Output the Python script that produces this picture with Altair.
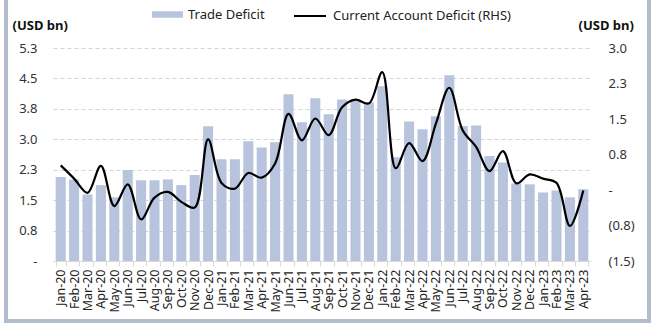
import altair as alt
import pandas as pd

months = ["Jan-20", "Feb-20", "Mar-20", "Apr-20", "May-20", "Jun-20", "Jul-20", "Aug-20",
          "Sep-20", "Oct-20", "Nov-20", "Dec-20", "Jan-21", "Feb-21", "Mar-21", "Apr-21",
          "May-21", "Jun-21", "Jul-21", "Aug-21", "Sep-21", "Oct-21", "Nov-21", "Dec-21",
          "Jan-22", "Feb-22", "Mar-22", "Apr-22", "May-22", "Jun-22", "Jul-22", "Aug-22",
          "Sep-22", "Oct-22", "Nov-22", "Dec-22", "Jan-23", "Feb-23", "Mar-23", "Apr-23"]

trade = [2.07, 2.01, 1.64, 1.87, 1.57, 2.24, 1.99, 1.99, 2.01, 1.87, 2.12, 3.32,
         2.51, 2.51, 2.95, 2.80, 2.93, 4.11, 3.42, 4.01, 3.62, 3.98, 3.98, 3.91,
         4.31, 2.56, 3.44, 3.25, 3.57, 4.58, 3.33, 3.34, 2.59, 2.43, 1.91, 1.89,
         1.69, 1.74, 1.57, 1.77]

cad = [0.52, 0.24, -0.06, 0.51, -0.34, 0.12, -0.62, -0.16, -0.04, -0.25, -0.37, 1.07,
       0.15, 0.03, 0.36, 0.26, 0.56, 1.61, 1.05, 1.51, 1.16, 1.75, 1.91, 1.83,
       2.49, 0.46, 0.99, 0.61, 1.40, 2.16, 1.26, 0.91, 0.40, 0.82, 0.14, 0.33,
       0.24, 0.15, -0.76, -0.01]

left_ticks = [0, 0.75, 1.5, 2.25, 3.0, 3.75, 4.5, 5.25]
right_ticks = [-1.5, -0.75, 0, 0.75, 1.5, 2.25, 3.0]

bar_name = "Trade Deficit"
line_name = "Current Account Deficit (RHS)"

df = pd.DataFrame({"month": months, "trade": trade, "cad": cad,
                   "bar_key": bar_name, "line_key": line_name})

FONT = "Noto Sans"
BAR = "#b8c4de"

x_enc = alt.X("month:N", sort=months, title=None,
              scale=alt.Scale(paddingInner=0.25, paddingOuter=0.2),
              axis=alt.Axis(labelAngle=-90, labelFontSize=12.5, labelColor="#222222",
                            domainColor="#d9d9d9", tickColor="#d9d9d9", tickSize=5,
                            tickBand="extent", labelPadding=3, grid=False,
                            labelFont=FONT))

bars = alt.Chart(df).mark_bar().encode(
    x=x_enc,
    y=alt.Y("trade:Q", scale=alt.Scale(domain=[0, 5.25], nice=False, zero=False),
            axis=alt.Axis(values=left_ticks, title="(USD bn)", titleAngle=0,
                          titleAlign="left", titleBaseline="middle",
                          titleX=-41, titleY=-23, titleFontWeight="bold",
                          titleFontSize=13, titleFont=FONT, titleColor="#111111",
                          labelExpr="datum.value == 0 ? '-' : format(datum.value, '.1f')",
                          labelFontSize=13, labelFont=FONT, labelColor="#333333",
                          labelPadding=16, ticks=False, domain=False,
                          grid=True, gridDash=[4, 3], gridColor="#d4d4d4")),
    color=alt.Color("bar_key:N", scale=alt.Scale(domain=[bar_name], range=[BAR]),
                    legend=alt.Legend(title=None, orient="none", legendX=99, legendY=-49,
                                      symbolType="M-1,-0.21L1,-0.21L1,0.21L-1,0.21Z",
                                      symbolSize=961, symbolStrokeWidth=0,
                                      labelFontSize=13, labelFont=FONT, labelColor="#222222",
                                      labelOffset=5, padding=0, labelLimit=400)),
)

line = alt.Chart(df).mark_line(interpolate="catmull-rom", strokeWidth=2.2).encode(
    x=alt.X("month:N", sort=months),
    y=alt.Y("cad:Q", scale=alt.Scale(domain=[-1.5, 3.0], nice=False, zero=False),
            axis=alt.Axis(orient="right", values=right_ticks, title="(USD bn)", titleAngle=0,
                          titleAlign="left", titleBaseline="middle",
                          titleX=-13, titleY=-23, titleFontWeight="bold",
                          titleFontSize=13, titleFont=FONT, titleColor="#111111",
                          labelExpr="datum.value == 0 ? '-' : (datum.value < 0 ? '(' + format(-datum.value, '.1f') + ')' : format(datum.value, '.1f'))",
                          labelFontSize=13, labelFont=FONT, labelColor="#333333",
                          labelPadding=17, ticks=False, domain=False, grid=False)),
    stroke=alt.Stroke("line_key:N", scale=alt.Scale(domain=[line_name], range=["#000000"]),
                      legend=alt.Legend(title=None, orient="none", legendX=240, legendY=-49,
                                        symbolType="stroke", symbolSize=1024,
                                        symbolStrokeWidth=2,
                                        labelFontSize=13, labelFont=FONT, labelColor="#222222",
                                        labelOffset=6, padding=0, labelLimit=400)),
)

frame = alt.Chart(df).mark_rect(filled=False, stroke="#b3bccb", strokeWidth=2.5, clip=False).encode(
    x=alt.value(-47), x2=alt.value(596), y=alt.value(-52), y2=alt.value(273)
)

chart = alt.layer(bars, line, frame).resolve_scale(
    y="independent", color="independent", stroke="independent"
).properties(
    width=538, height=213,
    padding={"left": 53, "top": 48, "right": 65, "bottom": 69},
    autosize=alt.AutoSizeParams(type="none"),
    background="white",
).configure_view(stroke=None)

chart.save("out.html", embed_options={"renderer": "svg", "actions": False})
